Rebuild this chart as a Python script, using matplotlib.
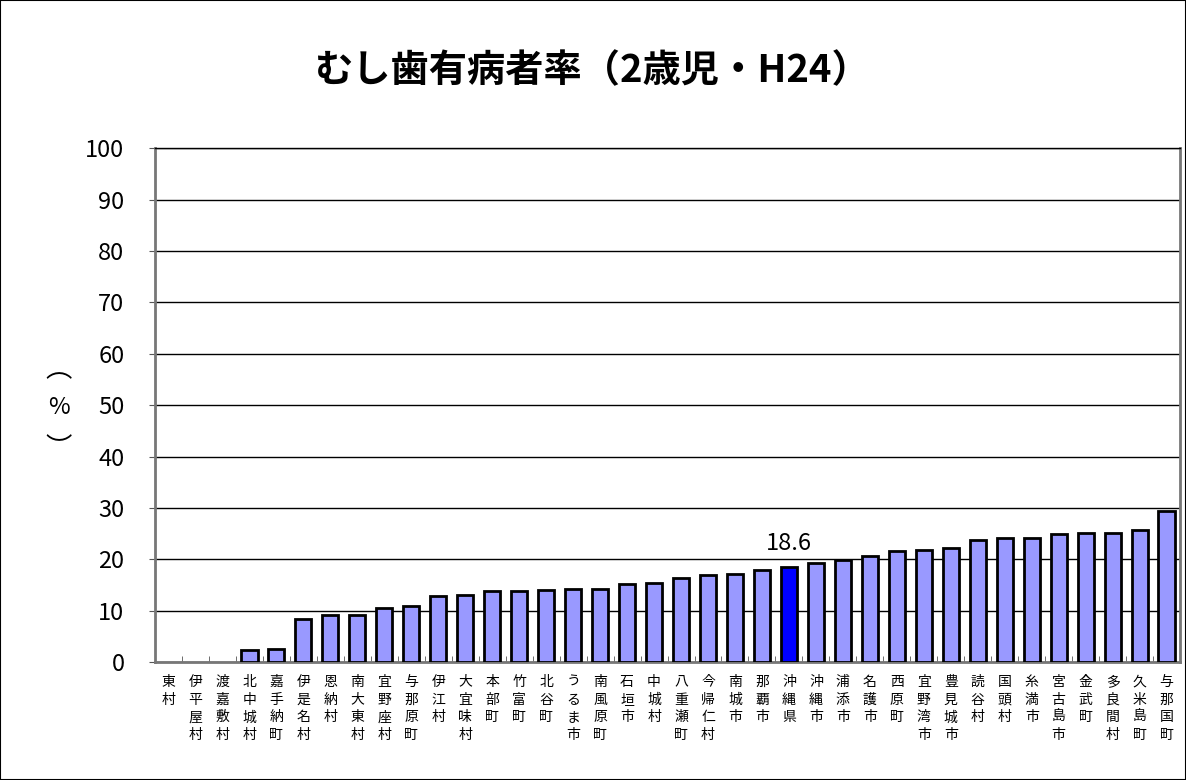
import matplotlib.pyplot as plt
from matplotlib.patches import Rectangle

plt.rcParams['font.family'] = ['Noto Sans CJK JP', 'DejaVu Sans']

names = ["東村", "伊平屋村", "渡嘉敷村", "北中城村", "嘉手納町", "伊是名村", "恩納村",
         "南大東村", "宜野座村", "与那原町", "伊江村", "大宜味村", "本部町", "竹富町",
         "北谷町", "うるま市", "南風原町", "石垣市", "中城村", "八重瀬町", "今帰仁村",
         "南城市", "那覇市", "沖縄県", "沖縄市", "浦添市", "名護市", "西原町",
         "宜野湾市", "豊見城市", "読谷村", "国頭村", "糸満市", "宮古島市", "金武町",
         "多良間村", "久米島町", "与那国町"]
rates = [0.0, 0.0, 0.0, 2.3, 2.5, 8.4, 9.1, 9.1, 10.5, 11.0, 12.8, 13.1, 13.8, 13.8,
         14.0, 14.2, 14.2, 15.3, 15.4, 16.3, 16.9, 17.2, 18.0, 18.6, 19.4, 19.8, 20.7,
         21.7, 21.8, 22.2, 23.7, 24.2, 24.2, 25.0, 25.1, 25.1, 25.8, 29.5]
highlight = "沖縄県"

fig = plt.figure(figsize=(11.86, 7.8), dpi=100)
ax = fig.add_axes([0.1307, 0.151, 0.8643, 0.659])

colors = ["#0000FF" if n == highlight else "#9999FF" for n in names]
widths = [2 if r > 0 else 0 for r in rates]  # empty bars show nothing
x = list(range(len(names)))
ax.bar(x, rates, width=0.6, color=colors, edgecolor="black", linewidth=widths, zorder=3)

ax.set_xlim(-0.5, len(names) - 0.5)
ax.set_ylim(0, 100)
ax.set_yticks(range(0, 101, 10))
ax.tick_params(axis='y', labelsize=17, length=4, color="#555555", pad=18)
ax.yaxis.grid(True, color="black", linewidth=1)
ax.set_axisbelow(True)

ax.set_xticks(x)
ax.set_xticklabels(["\n".join(n) for n in names], fontsize=10, linespacing=1.35)
ax.set_xticks([i - 0.5 for i in range(1, len(names))], minor=True)
ax.tick_params(axis='x', which='major', length=0, pad=9)
ax.tick_params(axis='x', which='minor', length=4, direction='in', color="#555555")

for s in ["left", "bottom", "right"]:
    ax.spines[s].set_color("#777777")
    ax.spines[s].set_linewidth(2)
ax.spines["top"].set_color("black")
ax.spines["top"].set_linewidth(1)

i = names.index(highlight)
ax.text(x[i], rates[i] + 2.3, f"{rates[i]:.1f}", ha="center", va="bottom", fontsize=17)

# vertical y-axis label (（%）) with vertical-form parentheses
fig.text(0.0497, 1 - 370 / 780, "︵", ha="center", va="center", fontsize=19)
fig.text(0.0497, 1 - 408 / 780, "%", ha="center", va="center", fontsize=17)
fig.text(0.0497, 1 - 449 / 780, "︶", ha="center", va="center", fontsize=19)

fig.text(0.5, 0.91, "むし歯有病者率（2歳児・H24）", ha="center", va="center",
         fontsize=27.5, fontweight="bold")

fig.patches.append(Rectangle((0, 0), 1, 1, transform=fig.transFigure, fill=False,
                             edgecolor="black", linewidth=1.5))

fig.savefig("out.png", dpi=100)
